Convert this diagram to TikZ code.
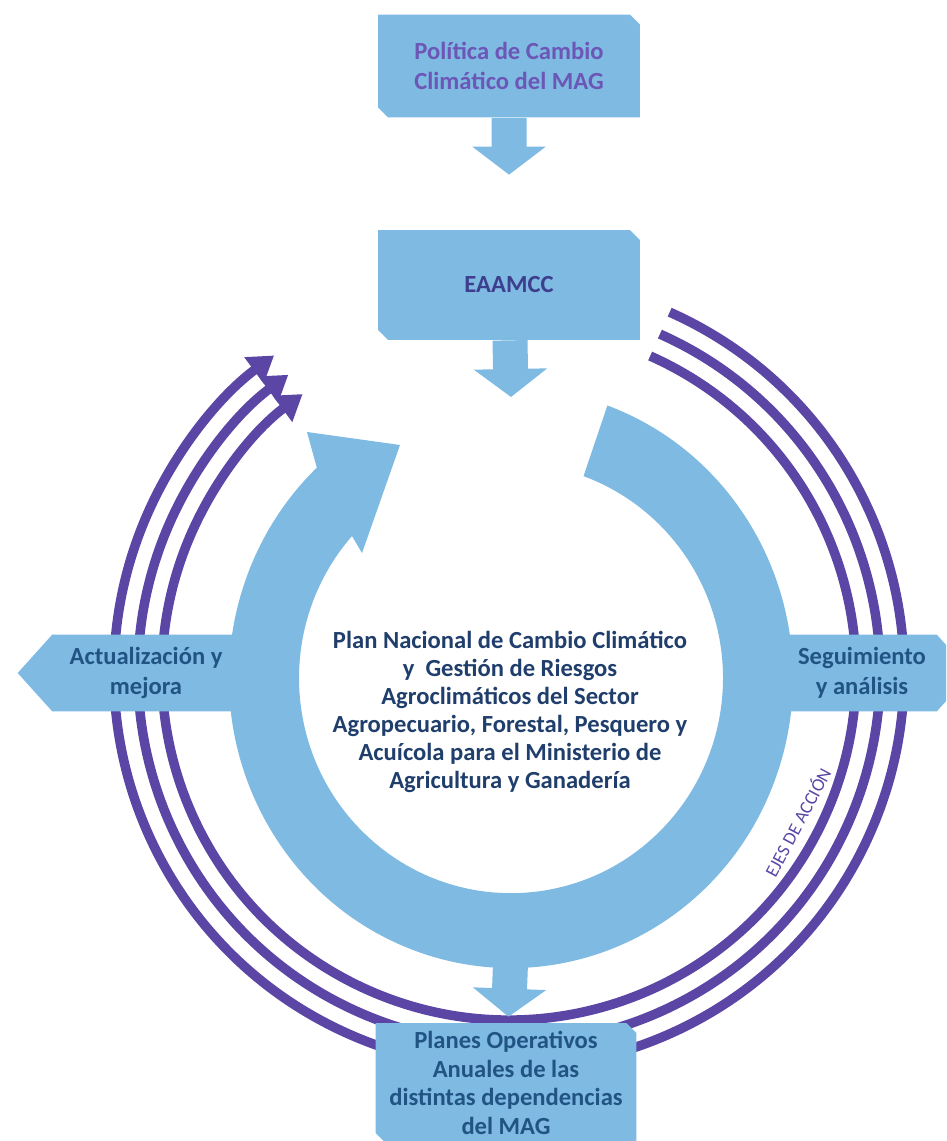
\documentclass[tikz,border=0pt]{standalone}
\usepackage{fontspec}
\setmainfont{Carlito}
\usetikzlibrary{arrows.meta,shapes.misc,shapes.symbols}

\definecolor{azul}{RGB}{126,186,226}
\definecolor{morado}{RGB}{91,70,165}
\definecolor{lila}{RGB}{108,86,182}
\definecolor{indigo}{RGB}{62,62,142}
\definecolor{marino}{RGB}{32,62,108}
\definecolor{azuloscuro}{RGB}{33,84,130}

\tikzset{
	caja/.style={chamfered rectangle, chamfered rectangle corners={north east,south west},
		chamfered rectangle xsep=0.1cm, chamfered rectangle ysep=0.1cm,
		fill=azul, inner sep=0pt, align=center,
		font=\fontsize{14}{17}\selectfont\bfseries},
	senal/.style={signal, signal pointer angle=96, fill=azul, inner sep=0pt,
		minimum height=1.54cm, align=center, text=azuloscuro,
		font=\fontsize{14}{17}\selectfont\bfseries},
	flecha/.style={draw=azul, line width=0.7cm, -{Triangle[length=0.56cm,width=1.44cm]}},
	eje/.style={draw=morado, line width=0.19cm, -{Triangle[length=0.5cm,width=0.62cm]}}
}

\begin{document}
\begin{tikzpicture}[x=0.02cm, y=0.02cm]
	\clip (0,0) rectangle (946,-1141);

	% Ejes de accion
	\foreach \r in {347,371,395}
		\draw[eje] (509,-673) ++(66:\r) arc[start angle=66, end angle=-233.5, radius=\r];
	\node[rotate=62, text=morado, font=\fontsize{10.5}{12}\selectfont] (ejes) at (797,-822) {EJES DE ACCIÓN};

	% Anillo
	\fill[azul] (607.4,-405.5) arc[start angle=70, end angle=-226.5, x radius=282, y radius=290]
		-- (307,-432) -- (400,-445) -- (362,-553) -- (352,-536)
		arc[start angle=-221.4, end angle=70, x radius=212, y radius=215] -- cycle;

	% Seguimiento / actualizacion
	\node[senal, signal to=west, minimum width=4.44cm] (actual) at (146,-673) {Actualización y\\mejora};
	\node[senal, signal to=east, minimum width=3.68cm] (segui) at (862,-673) {Seguimiento\\y análisis};

	% Cajas
	\node[caja, text=lila, minimum width=5.24cm, minimum height=2.06cm] (politica) at (509,-66)
		{Política de Cambio\\Climático del MAG};
	\node[caja, text=indigo, minimum width=5.24cm, minimum height=2.2cm] (eaamcc) at (509,-285) {EAAMCC};
	\node[caja, text=azuloscuro, minimum width=5.22cm, minimum height=2.4cm,
		font=\fontsize{14}{16.3}\selectfont\bfseries] (planes) at (506,-1083)
		{Planes Operativos\\Anuales de las\\distintas dependencias\\del MAG};

	% Flechas
	\coordinate (entrada) at (511,-397);
	\coordinate (salida) at (511,-950);
	\draw[flecha, shorten >=1.1cm] (politica) -- (eaamcc);
	\draw[flecha] (eaamcc) -- (entrada);
	\draw[flecha, shorten >=0.12cm] (salida) -- (planes);

	% Plan nacional
	\node[align=center, text=marino, font=\fontsize{14}{16}\selectfont\bfseries] (plan) at (510,-712)
		{Plan Nacional de Cambio Climático\\y~ Gestión de Riesgos\\Agroclimáticos del Sector\\
		Agropecuario, Forestal, Pesquero y\\Acuícola para el Ministerio de\\Agricultura y Ganadería};
\end{tikzpicture}
\end{document}
